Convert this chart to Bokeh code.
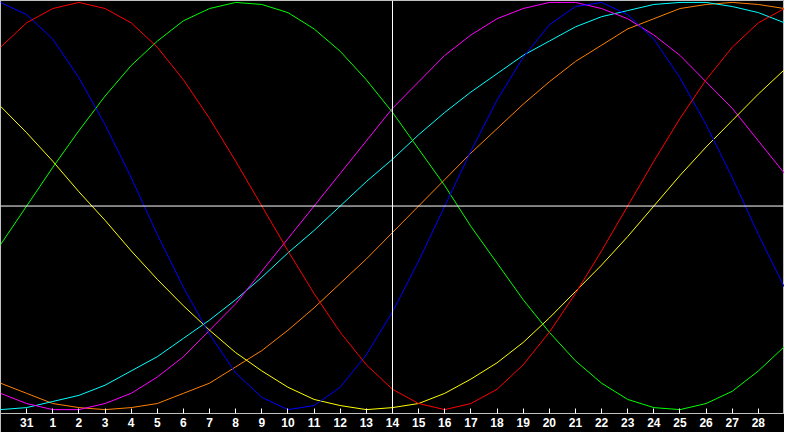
from bokeh.plotting import figure
from bokeh.models import Range1d, FixedTicker, Span
from bokeh.embed import file_html
from bokeh.resources import INLINE

# Day labels for each sampled day (first and last sit on the frame edges)
days = ["30", "31", "1", "2", "3", "4", "5", "6", "7", "8", "9", "10", "11",
        "12", "13", "14", "15", "16", "17", "18", "19", "20", "21", "22", "23",
        "24", "25", "26", "27", "28", "29"]
today = "14"

# Cycle values in percent, one per day
cycle23 = [100, 94, 82, 63, 40, 14, -14, -40, -63, -82, -94, -100, -98, -89, -73,
           -52, -27, 0, 27, 52, 73, 89, 98, 100, 94, 82, 63, 40, 14, -14, -40]
cycle28 = [78, 90, 97, 100, 97, 90, 78, 62, 43, 22, 0, -22, -43, -62, -78, -90,
           -97, -100, -97, -90, -78, -62, -43, -22, 0, 22, 43, 62, 78, 90, 97]
cycle33 = [-19, 0, 19, 37, 54, 69, 81, 91, 97, 100, 99, 95, 87, 76, 62, 46, 28,
           10, -10, -28, -46, -62, -76, -87, -95, -99, -100, -97, -91, -81, -69]
cycle38 = [-92, -97, -100, -100, -97, -92, -84, -74, -61, -48, -32, -16, 0, 16,
           32, 48, 61, 74, 84, 92, 97, 100, 100, 97, 92, 84, 74, 61, 48, 32, 16]
cycle43 = [49, 36, 22, 7, -7, -22, -36, -49, -61, -72, -81, -89, -95, -98, -100,
           -99, -97, -92, -85, -77, -67, -55, -42, -29, -15, 0, 15, 29, 42, 55, 67]
cycle48 = [-87, -92, -97, -99, -100, -99, -97, -92, -87, -79, -71, -61, -50, -38,
           -26, -13, 0, 13, 26, 38, 50, 61, 71, 79, 87, 92, 97, 99, 100, 99, 97]
cycle53 = [-100, -99, -96, -93, -88, -81, -74, -65, -56, -46, -35, -23, -12, 0,
           12, 23, 35, 46, 56, 65, 74, 81, 88, 93, 96, 99, 100, 100, 98, 95, 90]

series = [
    (cycle48, "#ff8000"),
    (cycle53, "#00ffff"),
    (cycle38, "#ff00ff"),
    (cycle43, "#ffff00"),
    (cycle33, "#00ff00"),
    (cycle23, "#0000ff"),
    (cycle28, "#ff0000"),
]

x = list(range(len(days)))

p = figure(width=784, height=432, output_backend="svg", toolbar_location=None,
           x_range=Range1d(0, len(days) - 1), y_range=Range1d(-101.9, 100.95),
           y_axis_location=None,
           background_fill_color="black", border_fill_color="black",
           outline_line_color="#c0c0c0", outline_line_width=1,
           min_border_left=0, min_border_right=0, min_border_top=0,
           min_border_bottom=19)
p.grid.visible = False

for vals, color in series:
    p.line(x, vals, line_color=color, line_width=1)

p.add_layout(Span(location=0, dimension="width", line_color="white", line_width=1))
p.add_layout(Span(location=days.index(today), dimension="height",
                  line_color="white", line_width=1))

ax = p.xaxis[0]
tick_pos = list(range(1, len(days) - 1))
ax.ticker = FixedTicker(ticks=tick_pos)
ax.major_label_overrides = {i: days[i] for i in tick_pos}
ax.axis_line_color = "#c0c0c0"
ax.major_tick_in = 5
ax.major_tick_out = 0
ax.major_tick_line_color = "white"
ax.minor_tick_line_color = None
ax.major_label_text_color = "white"
ax.major_label_text_font = "Liberation Sans"
ax.major_label_text_font_style = "bold"
ax.major_label_text_font_size = "12px"
ax.major_label_standoff = 4

open("out.html", "w").write(file_html(p, INLINE))
